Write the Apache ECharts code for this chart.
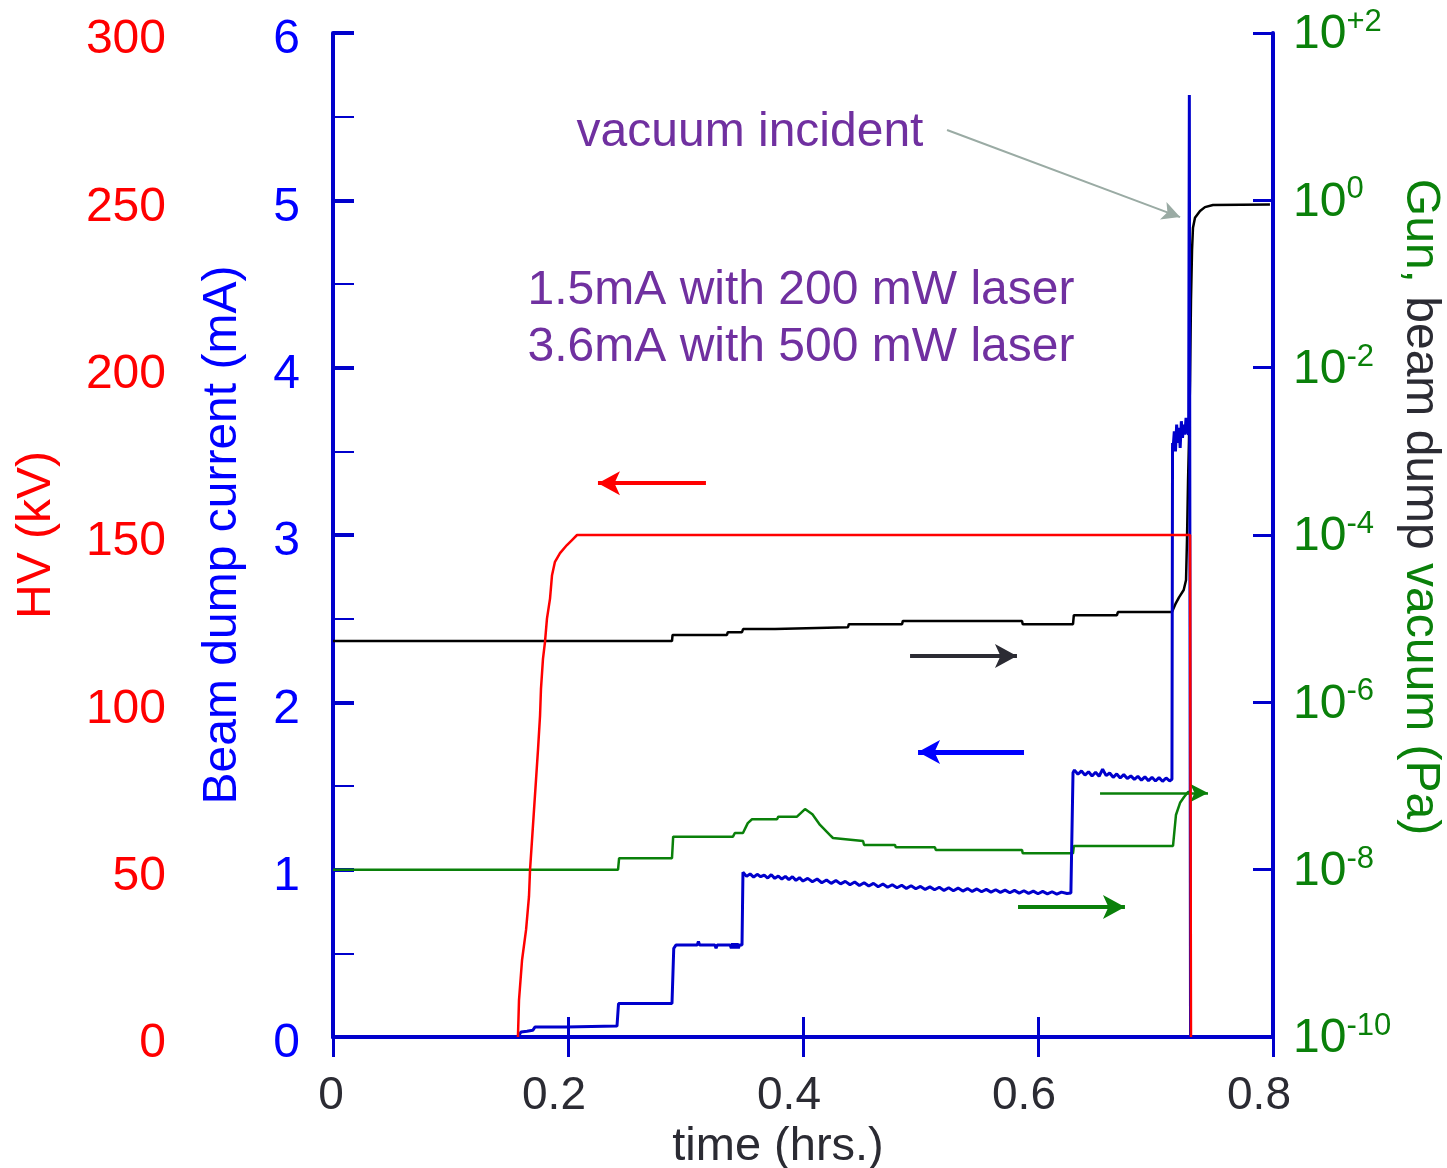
<!DOCTYPE html>
<html>
<head>
<meta charset="utf-8">
<script src="https://cdn.jsdelivr.net/npm/echarts@6/dist/echarts.min.js"></script>
<style>
html,body{margin:0;padding:0;background:#fff;}
#chart{width:1447px;height:1168px;}
</style>
</head>
<body>
<div id="chart"></div>
<script>
// ---- Data (time in hours) ----
const xTicks = [0, 0.2, 0.4, 0.6, 0.8];
const hvTicks = [0, 50, 100, 150, 200, 250, 300];
const currentTicks = [0, 1, 2, 3, 4, 5, 6];
const vacuumTicks = [1e-10, 1e-8, 1e-6, 1e-4, 1e-2, 1e0, 1e2];

// HV (kV)
const hvData = [
  [0.1574, 0], [0.1583, 11], [0.1609, 23], [0.1643, 32], [0.1668, 42],
  [0.1677, 50], [0.1694, 59], [0.1711, 68], [0.1728, 77], [0.1745, 86],
  [0.1762, 96], [0.1770, 104], [0.1787, 113], [0.1804, 118], [0.1821, 125],
  [0.1847, 131], [0.1864, 138], [0.1889, 142], [0.1932, 144.6], [0.1991, 147],
  [0.2034, 148.5], [0.2077, 150], [0.7294, 150], [0.7302, 0]
];

// Beam dump current (mA)
const currentData = [
  [0, 0], [0.1574, 0], [0.1600, 0.03], [0.1651, 0.035], [0.1700, 0.04], [0.1720, 0.06],
  [0.1983, 0.06], [0.2000, 0.065], [0.2417, 0.065], [0.2430, 0.2], [0.2885, 0.2],
  [0.2900, 0.53], [0.2920, 0.55], [0.3100, 0.55], [0.3110, 0.57], [0.3120, 0.55],
  [0.3250, 0.55], [0.3260, 0.53], [0.3270, 0.55], [0.3380, 0.55], [0.3390, 0.53],
  [0.3400, 0.56], [0.3410, 0.53], [0.3420, 0.56], [0.3430, 0.53], [0.3440, 0.56],
  [0.3450, 0.53], [0.3460, 0.55], [0.3481, 0.55],
  [0.3489, 0.985], [0.3520, 0.960], [0.3550, 0.975], [0.3580, 0.955], [0.3610, 0.972],
  [0.3640, 0.958], [0.3670, 0.968], [0.3700, 0.950], [0.3730, 0.970], [0.3760, 0.948],
  [0.3790, 0.962], [0.3820, 0.944], [0.3850, 0.960], [0.3880, 0.940], [0.3910, 0.958],
  [0.3940, 0.936], [0.3970, 0.952], [0.4000, 0.932], [0.4040, 0.948], [0.4080, 0.928],
  [0.4120, 0.944], [0.4160, 0.922], [0.4200, 0.938], [0.4240, 0.918], [0.4280, 0.935],
  [0.4320, 0.915], [0.4360, 0.930], [0.4400, 0.910], [0.4440, 0.926], [0.4480, 0.905],
  [0.4520, 0.922], [0.4560, 0.902], [0.4600, 0.918], [0.4640, 0.898], [0.4680, 0.914],
  [0.4720, 0.895], [0.4760, 0.910], [0.4800, 0.892], [0.4840, 0.907], [0.4880, 0.888],
  [0.4920, 0.904], [0.4960, 0.886], [0.5000, 0.900], [0.5040, 0.882], [0.5080, 0.897],
  [0.5120, 0.880], [0.5160, 0.895], [0.5200, 0.876], [0.5240, 0.892], [0.5280, 0.874],
  [0.5320, 0.890], [0.5360, 0.872], [0.5400, 0.887], [0.5440, 0.870], [0.5480, 0.885],
  [0.5520, 0.868], [0.5560, 0.882], [0.5600, 0.866], [0.5640, 0.880], [0.5680, 0.864],
  [0.5720, 0.878], [0.5760, 0.862], [0.5800, 0.876], [0.5840, 0.860], [0.5880, 0.874],
  [0.5920, 0.858], [0.5960, 0.872], [0.6000, 0.856], [0.6040, 0.870], [0.6080, 0.855],
  [0.6120, 0.868], [0.6160, 0.854], [0.6200, 0.866], [0.6247, 0.858], [0.6280, 0.860],
  [0.6298, 1.580], [0.6310, 1.595], [0.6340, 1.570], [0.6370, 1.590], [0.6400, 1.565],
  [0.6430, 1.585], [0.6460, 1.560], [0.6490, 1.582], [0.6520, 1.558], [0.6550, 1.600],
  [0.6580, 1.562], [0.6610, 1.578], [0.6640, 1.552], [0.6670, 1.572], [0.6700, 1.548],
  [0.6730, 1.568], [0.6760, 1.545], [0.6790, 1.560], [0.6820, 1.540], [0.6850, 1.558],
  [0.6880, 1.535], [0.6910, 1.555], [0.6940, 1.532], [0.6970, 1.552], [0.7000, 1.530],
  [0.7030, 1.550], [0.7060, 1.528], [0.7090, 1.548], [0.7120, 1.530], [0.7140, 1.540],
  [0.7145, 3.55], [0.7150, 3.52], [0.7160, 3.62], [0.7170, 3.50], [0.7180, 3.66],
  [0.7190, 3.55], [0.7200, 3.64], [0.7210, 3.52], [0.7220, 3.68], [0.7230, 3.58],
  [0.7240, 3.66], [0.7250, 3.60], [0.7260, 3.70], [0.7270, 3.62], [0.7282, 3.60],
  [0.7288, 5.63], [0.7298, 0], [0.8, 0]
];

// Beam dump vacuum (Pa) - black
const dumpVacData = [
  [0, 5.4e-6], [0.2885, 5.4e-6], [0.2890, 6.4e-6], [0.3353, 6.4e-6], [0.3360, 6.9e-6],
  [0.3481, 6.9e-6], [0.3490, 7.5e-6], [0.3762, 7.5e-6], [0.3770, 7.9e-6], [0.4383, 7.9e-6],
  [0.4390, 8.6e-6], [0.4843, 8.6e-6], [0.4850, 9.4e-6], [0.5864, 9.4e-6], [0.5870, 8.6e-6],
  [0.6298, 8.6e-6], [0.6305, 1.1e-5], [0.6672, 1.1e-5], [0.6680, 1.2e-5], [0.7140, 1.2e-5],
  [0.7170, 1.5e-5], [0.7200, 1.8e-5], [0.7240, 2.2e-5], [0.7260, 2.9e-5], [0.7268, 8.7e-5],
  [0.7277, 4.5e-4], [0.7285, 1.36e-3], [0.7294, 7.1e-3], [0.7302, 0.064], [0.7311, 0.255],
  [0.7319, 0.47], [0.7336, 0.62], [0.7379, 0.745], [0.7421, 0.83], [0.7489, 0.88],
  [0.7974, 0.89]
];

// Gun vacuum (Pa) - green
const gunVacData = [
  [0, 1.0e-8], [0.2426, 1.0e-8], [0.2435, 1.37e-8], [0.2885, 1.37e-8], [0.2895, 2.48e-8],
  [0.3404, 2.48e-8], [0.3420, 2.74e-8], [0.3489, 2.74e-8], [0.3530, 3.6e-8], [0.3566, 4.0e-8],
  [0.3779, 4.0e-8], [0.3790, 4.3e-8], [0.3949, 4.3e-8], [0.4017, 5.3e-8], [0.4080, 4.6e-8],
  [0.4145, 3.42e-8], [0.4230, 2.59e-8], [0.4255, 2.39e-8], [0.4511, 2.2e-8], [0.4520, 1.97e-8],
  [0.4783, 1.97e-8], [0.4790, 1.85e-8], [0.5123, 1.85e-8], [0.5130, 1.72e-8], [0.5864, 1.72e-8],
  [0.5870, 1.57e-8], [0.6298, 1.57e-8], [0.6305, 1.92e-8], [0.7149, 1.92e-8], [0.7174, 4.5e-8],
  [0.7209, 6.3e-8], [0.7243, 7.4e-8], [0.7277, 8.5e-8], [0.7300, 8.5e-8]
];

// Annotation arrows in data coordinates
const hvArrow = [[0.3174, 165.5], [0.2255, 165.5]];
const currentArrow = [[0.5881, 1.703], [0.4979, 1.703]];
const dumpArrow = [[0.4911, 3.58e-6], [0.5821, 3.58e-6]];
const gunArrowA = [[0.5830, 3.58e-9], [0.6740, 3.58e-9]];
const gunArrowB = [[0.6528, 8.24e-8], [0.7447, 8.24e-8]];
const incidentArrow = [[0.5226, 5.42], [0.7209, 4.90]];

const BLUE_AX = '#0000cc';
const BLUE = '#0000ff';
const RED = '#ff0000';
const GREEN = '#0a800a';
const DARK = '#2b2b33';
const PURPLE = '#7030a0';
const FONT = 'Liberation Sans, Arial, sans-serif';

function arrowLine(pts, color, width, size) {
  return [
    {coord: pts[0], lineStyle: {color: color, width: width, type: 'solid'}, symbolSize: size},
    {coord: pts[1], symbolSize: size}
  ];
}
function markLines(items) {
  return {
    silent: true, animation: false,
    symbol: ['none', 'arrow'],
    label: {show: false},
    lineStyle: {type: 'solid'},
    emphasis: {disabled: true},
    data: items
  };
}

const chart = echarts.init(document.getElementById('chart'), null, {renderer: 'canvas'});
const option = {
  animation: false,
  backgroundColor: '#ffffff',
  textStyle: {fontFamily: FONT},
  grid: {left: 333, right: 174, top: 33, bottom: 131, containLabel: false, outerBoundsMode: 'none'},
  xAxis: [
    {
      type: 'value', position: 'bottom', min: 0, max: 0.8, interval: 0.2,
      axisLine: {show: true, lineStyle: {color: BLUE_AX, width: 4}},
      axisTick: {show: true, inside: true, length: 20, lineStyle: {color: BLUE_AX, width: 3}},
      splitLine: {show: false},
      axisLabel: {
        margin: 36,
        formatter: v => (v === 0 ? '{z|0}' : '{n|' + String(+v.toFixed(1)) + '}'),
        rich: {
          z: {color: DARK, fontSize: 46, fontFamily: FONT, padding: [0, 4, 0, 0]},
          n: {color: DARK, fontSize: 46, fontFamily: FONT, padding: [0, 28, 0, 0]}
        }
      },
      name: 'time (hrs.)', nameLocation: 'middle', nameGap: 86,
      nameTextStyle: {color: DARK, fontSize: 47, fontFamily: FONT, padding: [0, 50, 0, 0]}
    },
    {
      type: 'value', position: 'top', min: 0, max: 0.8, interval: 0.2,
      axisLine: {show: true, lineStyle: {color: BLUE_AX, width: 4}},
      axisTick: {show: true, inside: true, length: 20, lineStyle: {color: BLUE_AX, width: 3}},
      splitLine: {show: false}, axisLabel: {show: false}
    }
  ],
  yAxis: [
    {
      type: 'value', position: 'left', min: 0, max: 6, interval: 1,
      axisLine: {show: true, lineStyle: {color: BLUE_AX, width: 4}},
      axisTick: {show: true, inside: true, length: 21, lineStyle: {color: BLUE_AX, width: 4}},
      minorTick: {show: true, splitNumber: 2, length: 21, lineStyle: {color: BLUE_AX, width: 2}},
      splitLine: {show: false},
      axisLabel: {
        margin: 33,
        formatter: v => '{v|' + v + '}',
        rich: {v: {color: BLUE, fontSize: 48, fontFamily: FONT, padding: [14, 0, 0, 0]}}
      },
      name: 'Beam dump current (mA)', nameLocation: 'middle', nameGap: 86,
      nameTextStyle: {color: BLUE, fontSize: 48, fontFamily: FONT}
    },
    {
      type: 'value', position: 'left', offset: 130, min: 0, max: 300, interval: 50,
      axisLine: {show: false}, axisTick: {show: false}, splitLine: {show: false},
      axisLabel: {
        margin: 37,
        formatter: v => '{v|' + v + '}',
        rich: {v: {color: RED, fontSize: 48, fontFamily: FONT, padding: [14, 0, 0, 0]}}
      },
      name: 'HV (kV)', nameLocation: 'middle', nameGap: 142,
      nameTextStyle: {color: RED, fontSize: 48, fontFamily: FONT}
    },
    {
      type: 'log', logBase: 10, position: 'right', min: 1e-10, max: 1e2, interval: 2,
      axisLine: {show: true, lineStyle: {color: BLUE_AX, width: 4}},
      axisTick: {show: true, inside: true, length: 20, lineStyle: {color: BLUE_AX, width: 3}},
      splitLine: {show: false},
      axisLabel: {
        margin: 20,
        formatter: function (v) {
          const e = Math.round(Math.log10(v));
          const s = e > 0 ? '+' + e : String(e);
          return '{b|10}{s|' + s + '}';
        },
        rich: {
          b: {color: GREEN, fontSize: 48, fontFamily: FONT, lineHeight: 52, verticalAlign: 'bottom'},
          s: {color: GREEN, fontSize: 31, fontFamily: FONT, lineHeight: 52, verticalAlign: 'top', padding: [0, 0, 14, 0]}
        }
      }
    }
  ],
  graphic: [
    {type: 'text', x: 750, y: 133, silent: true,
      style: {text: 'vacuum incident', fill: PURPLE, font: '48px ' + FONT, align: 'center', verticalAlign: 'middle'}},
    {type: 'text', x: 801, y: 319, silent: true,
      style: {text: '1.5mA with 200 mW laser\n3.6mA with 500 mW laser', fill: PURPLE,
        font: '48px ' + FONT, align: 'center', verticalAlign: 'middle', lineHeight: 57}},
    {type: 'text', x: 1420, y: 507, rotation: -Math.PI / 2, silent: true,
      style: {
        text: '{g|Gun,} {d|beam dump} {g|vacuum (Pa)}',
        align: 'center', verticalAlign: 'middle',
        rich: {
          g: {fill: GREEN, fontSize: 48, fontFamily: FONT},
          d: {fill: DARK, fontSize: 48, fontFamily: FONT}
        },
        font: '48px ' + FONT
      }}
  ],
  series: [
    {
      name: 'Beam dump vacuum', type: 'line', xAxisIndex: 0, yAxisIndex: 2,
      data: dumpVacData, showSymbol: false, symbol: 'none',
      lineStyle: {color: '#000000', width: 2.5}, z: 2,
      markLine: markLines([arrowLine(dumpArrow, DARK, 4, [18, 22])])
    },
    {
      name: 'Gun vacuum', type: 'line', xAxisIndex: 0, yAxisIndex: 2,
      data: gunVacData, showSymbol: false, symbol: 'none',
      lineStyle: {color: GREEN, width: 2.5}, z: 3,
      markLine: markLines([
        arrowLine(gunArrowA, GREEN, 4, [18, 22]),
        arrowLine(gunArrowB, GREEN, 2.5, [14, 18])
      ])
    },
    {
      name: 'Beam dump current', type: 'line', xAxisIndex: 0, yAxisIndex: 0,
      data: currentData, showSymbol: false, symbol: 'none',
      lineStyle: {color: BLUE_AX, width: 3}, z: 4,
      markLine: markLines([
        arrowLine(currentArrow, BLUE, 5, [18, 22]),
        arrowLine(incidentArrow, '#9aaba4', 2, [14, 18])
      ])
    },
    {
      name: 'HV', type: 'line', xAxisIndex: 0, yAxisIndex: 1,
      data: hvData, showSymbol: false, symbol: 'none',
      lineStyle: {color: RED, width: 2.5}, z: 5,
      markLine: markLines([arrowLine(hvArrow, RED, 4, [18, 22])])
    }
  ]
};
chart.setOption(option);
</script>
</body>
</html>
